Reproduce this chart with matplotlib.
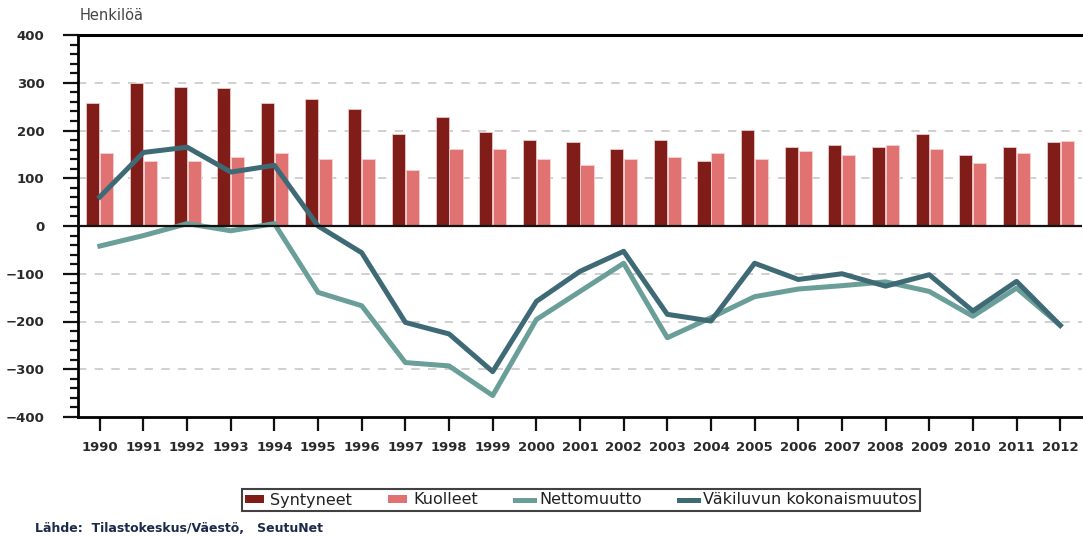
import matplotlib
matplotlib.use("Agg")
import matplotlib.pyplot as plt
from matplotlib.lines import Line2D
from matplotlib.patches import Patch
from matplotlib.ticker import MultipleLocator
import numpy as np

years = [str(y) for y in range(1990, 2013)]
syntyneet = [257, 300, 292, 288, 257, 266, 245, 193, 228, 197, 180, 175, 162,
             180, 136, 201, 166, 170, 166, 193, 149, 166, 175]
kuolleet = [153, 136, 136, 145, 153, 140, 140, 118, 162, 162, 140, 127, 140,
            145, 153, 140, 157, 149, 170, 162, 132, 153, 179]
nettomuutto = [-42, -20, 5, -10, 5, -139, -167, -286, -293, -355, -196, -137, -78,
               -234, -192, -148, -132, -125, -117, -137, -189, -130, -208]
kokonaismuutos = [61, 154, 165, 113, 127, 0, -56, -202, -226, -305, -158, -95, -53,
                  -185, -199, -78, -112, -100, -126, -102, -178, -116, -208]

c_synt = "#801d18"
c_kuol = "#e07272"
c_netto = "#6a9e98"
c_koko = "#3e6a76"

plt.rcParams["font.family"] = ["DejaVu Sans"]

fig = plt.figure(figsize=(10.83, 5.37), dpi=100)
ax = fig.add_axes([78 / 1083, 1 - 417 / 537, 1004 / 1083, 382 / 537])

x = np.arange(len(years))
w = 0.3
ax.bar(x - 0.16, syntyneet, w, color=c_synt, edgecolor="#f0c8c8", linewidth=0.6, zorder=2)
ax.bar(x + 0.16, kuolleet, w, color=c_kuol, edgecolor="#f6d0d0", linewidth=0.6, zorder=2)
ax.plot(x, nettomuutto, color=c_netto, lw=3.6, zorder=3, solid_joinstyle="round")
ax.plot(x, kokonaismuutos, color=c_koko, lw=3.6, zorder=4, solid_joinstyle="round")

ax.set_xlim(-0.5, len(years) - 0.5)
ax.set_ylim(-400, 400)
ax.set_xticks(x)
ax.set_xticklabels(years)
ax.yaxis.set_major_locator(MultipleLocator(100))
ax.yaxis.set_minor_locator(MultipleLocator(20))

for g in [-300, -200, -100, 100, 200, 300]:
    ax.axhline(g, color="#c8c8c8", lw=1.2, ls=(0, (5, 5)), zorder=1)
ax.axhline(0, color="#111111", lw=1.6, zorder=5)

ax.spines["right"].set_visible(False)
ax.spines["top"].set_linewidth(2.2)
ax.spines["left"].set_linewidth(2.0)
ax.spines["bottom"].set_linewidth(2.0)

ax.tick_params(axis="y", which="major", length=11, width=1.6, labelsize=9.5,
               colors="#111111", pad=13)
ax.tick_params(axis="y", which="minor", length=6, width=1.6, colors="#111111")
ax.tick_params(axis="x", which="major", length=10, width=1.6, labelsize=9.5,
               colors="#111111", pad=7)
for lab in ax.get_xticklabels() + ax.get_yticklabels():
    lab.set_fontweight("bold")
    lab.set_color("#2a2a2a")

fig.text(80 / 1083, 1 - 15 / 537, "Henkilöä", fontsize=10.5, color="#444444",
         ha="left", va="center")

handles = [
    Patch(facecolor=c_synt, edgecolor="none"),
    Patch(facecolor=c_kuol, edgecolor="none"),
    Line2D([], [], color=c_netto, lw=3.6),
    Line2D([], [], color=c_koko, lw=3.6),
]
labels = ["Syntyneet", "Kuolleet", "Nettomuutto", "Väkiluvun kokonaismuutos"]
leg = fig.legend(handles, labels, loc="center", bbox_to_anchor=(581 / 1083, 1 - 500 / 537),
                 ncol=4, frameon=True, fancybox=False, fontsize=11.5,
                 handlelength=1.2, handleheight=0.45, handletextpad=0.35,
                 columnspacing=2.3, borderpad=0.2)
leg.get_frame().set_edgecolor("#111111")
leg.get_frame().set_linewidth(1.5)
for t in leg.get_texts():
    t.set_color("#222222")

fig.text(35 / 1083, 1 - 528 / 537, "Lähde:  Tilastokeskus/Väestö,   SeutuNet",
         fontsize=9, color="#1b2a4a", fontweight="bold", ha="left", va="center")

fig.savefig("out.png", dpi=100, facecolor="white")
